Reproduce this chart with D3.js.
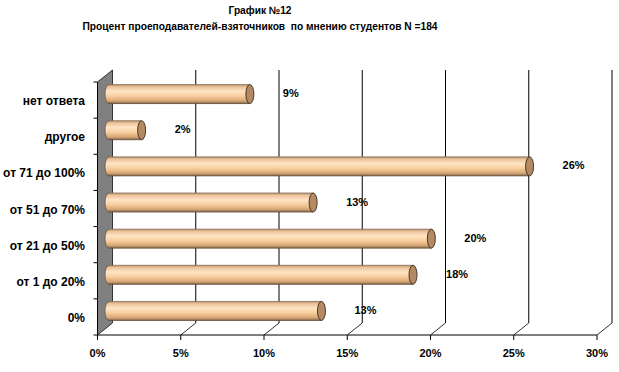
<!DOCTYPE html>
<meta charset="utf-8">
<html lang="ru">
<head>
    <script src="https://d3js.org/d3.v7.min.js"></script>
    <style>
        body { margin: 0; background: #fff; }
        svg text { font-family: "Liberation Sans", Arial, sans-serif; fill: #000; }
    </style>
</head>
<body>
    <svg width="619" height="372"></svg>
</body>
</html>
<script>
    // chart data
    const categories = ["нет ответа", "другое", "от 71 до 100%", "от 51 до 70%", "от 21 до 50%", "от 1 до 20%", "0%"];
    const values = [8.7, 2.2, 25.5, 12.5, 19.6, 18.5, 13.0];
    const labels = ["9%", "2%", "26%", "13%", "20%", "18%", "13%"];
    const ticks = [0, 5, 10, 15, 20, 25, 30];

    let svg = d3.select("svg");

    // depth offset of the 3D box
    const dx = 15, dy = -12;

    let x = d3.scaleLinear().domain([0, 30]).range([97.5, 597]);
    let y = d3.scaleBand().domain(categories).range([82, 335]);

    // gradient for cylinder body
    let defs = svg.append("defs");
    let grad = defs.append("linearGradient")
        .attr("id", "cyl").attr("x1", 0).attr("y1", 0).attr("x2", 0).attr("y2", 1);
    [[0, "#b8926e"], [0.12, "#eac29a"], [0.35, "#ffe4c4"], [0.6, "#f8cfa0"], [0.85, "#d9a876"], [1, "#8a6a4c"]]
        .forEach(s => grad.append("stop").attr("offset", s[0]).attr("stop-color", s[1]));

    // title (narrow bold, squeezed to the original width)
    svg.append("text").attr("x", 260).attr("y", 14)
        .attr("text-anchor", "middle").style("font-size", "11px").style("font-weight", "bold")
        .attr("textLength", 63).attr("lengthAdjust", "spacingAndGlyphs")
        .text("График №12");
    svg.append("text").attr("x", 260).attr("y", 30)
        .attr("text-anchor", "middle").style("font-size", "11px").style("font-weight", "bold")
        .attr("textLength", 355).attr("lengthAdjust", "spacingAndGlyphs")
        .attr("xml:space", "preserve")
        .text("Процент проеподавателей-взяточников  по мнению студентов N =184");

    let yTop = y.range()[0], yBot = y.range()[1];

    // back wall gridlines
    let grid = svg.append("g");
    grid.selectAll("line.back")
        .data(ticks.slice(1))
        .enter().append("line")
        .attr("x1", d => x(d) + dx).attr("x2", d => x(d) + dx)
        .attr("y1", yTop + dy).attr("y2", yBot + dy)
        .attr("stroke", "#000");
    grid.selectAll("line.diag")
        .data(ticks.slice(1))
        .enter().append("line")
        .attr("x1", d => x(d)).attr("x2", d => x(d) + dx)
        .attr("y1", yBot).attr("y2", yBot + dy)
        .attr("stroke", "#333");

    // left wall
    svg.append("path")
        .attr("d", `M${x(0)},${yTop} L${x(0) + dx},${yTop + dy} L${x(0) + dx},${yBot + dy} L${x(0)},${yBot} Z`)
        .attr("fill", "#808080").attr("stroke", "#333");

    // x axis line and ticks
    svg.append("line")
        .attr("x1", x(0)).attr("x2", x(30)).attr("y1", yBot).attr("y2", yBot)
        .attr("stroke", "#000");
    svg.selectAll("line.xt")
        .data(ticks).enter().append("line")
        .attr("x1", d => x(d)).attr("x2", d => x(d))
        .attr("y1", yBot).attr("y2", yBot + 5).attr("stroke", "#000");
    svg.selectAll("text.xl")
        .data(ticks).enter().append("text")
        .attr("x", d => x(d)).attr("y", yBot + 22)
        .attr("text-anchor", "middle").style("font-size", "11px").style("font-weight", "bold")
        .text(d => d + "%");

    // y axis ticks on front edge
    let yTicks = categories.map(c => y(c)).concat([yBot]);
    svg.selectAll("line.yt")
        .data(yTicks).enter().append("line")
        .attr("x1", x(0) - 4).attr("x2", x(0))
        .attr("y1", d => d).attr("y2", d => d).attr("stroke", "#000");
    svg.append("line")
        .attr("x1", x(0)).attr("x2", x(0)).attr("y1", yTop).attr("y2", yBot)
        .attr("stroke", "#000");

    svg.selectAll("text.yl")
        .data(categories).enter().append("text")
        .attr("x", 85).attr("y", d => y(d) + y.bandwidth() / 2 + 5)
        .attr("text-anchor", "end").style("font-size", "12px").style("font-weight", "bold")
        .text(d => d);

    // cylinders, placed at half depth
    const bh = 19, rx = 4;
    let bars = svg.selectAll("g.bar")
        .data(values).enter().append("g")
        .attr("transform", (d, i) => `translate(${dx / 2},${y(categories[i]) + y.bandwidth() / 2 + dy / 2})`);
    bars.append("ellipse")
        .attr("cx", x(0) + rx).attr("cy", 0).attr("rx", rx).attr("ry", bh / 2)
        .attr("fill", "url(#cyl)").attr("stroke", "#6b5540").attr("stroke-width", 0.8);
    bars.append("rect")
        .attr("x", x(0) + rx).attr("y", -bh / 2)
        .attr("width", d => x(d) - x(0) - rx).attr("height", bh)
        .attr("fill", "url(#cyl)");
    bars.append("line")
        .attr("x1", x(0) + rx).attr("x2", d => x(d))
        .attr("y1", -bh / 2).attr("y2", -bh / 2).attr("stroke", "#8a7058").attr("stroke-width", 0.8);
    bars.append("line")
        .attr("x1", x(0) + rx).attr("x2", d => x(d))
        .attr("y1", bh / 2).attr("y2", bh / 2).attr("stroke", "#5a4636").attr("stroke-width", 0.8);
    bars.append("ellipse")
        .attr("cx", d => x(d)).attr("cy", 0).attr("rx", rx).attr("ry", bh / 2)
        .attr("fill", "#b38a63").attr("stroke", "#3a2a1c").attr("stroke-width", 0.9);

    // value labels
    bars.append("text")
        .attr("x", d => x(d) + 33).attr("y", 3)
        .style("font-size", "11px").style("font-weight", "bold")
        .text((d, i) => labels[i]);
</script>
